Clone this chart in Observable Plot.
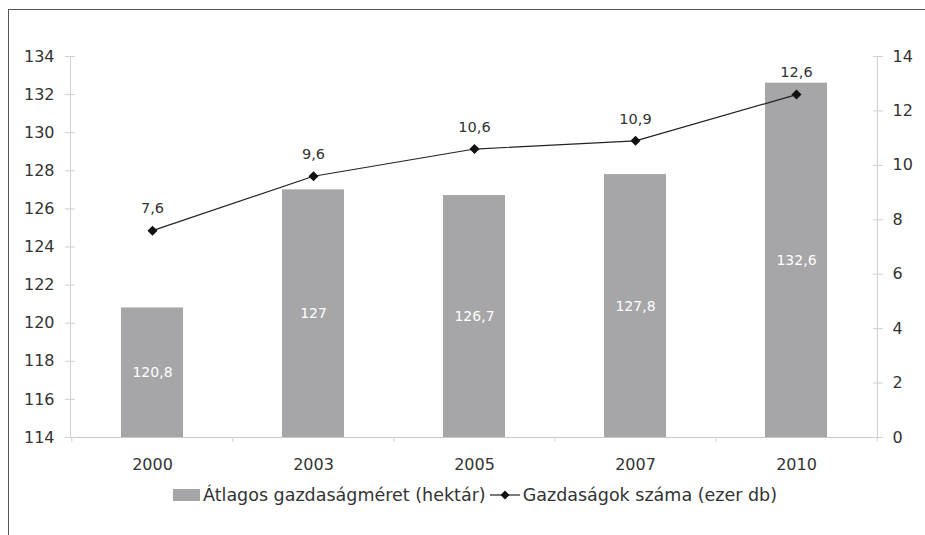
<!DOCTYPE html>
<html>
<head>
<meta charset="utf-8">
<script src="https://cdn.jsdelivr.net/npm/d3@7"></script>
<script src="https://cdn.jsdelivr.net/npm/@observablehq/plot@0.6"></script>
<style>
  html, body { margin: 0; padding: 0; background: #fff; }
  body { width: 925px; height: 535px; position: relative; overflow: hidden; font-family: "DejaVu Sans", sans-serif; }
  #frame { position: absolute; left: 8px; top: 9px; right: -2px; bottom: -2px; border-top: 1.5px solid #555; border-left: 1.5px solid #555; }
  #chart { position: absolute; left: 0; top: 0; }
  #legend { position: absolute; top: 485px; left: 173px; display: flex; align-items: center; font-size: 17.5px; color: #333; white-space: nowrap; }
  .sw-bar { width: 27px; height: 12px; background: #a6a6a8; margin-right: 3px; }
  .sw-line { margin: 0 3px 0 4px; }
</style>
</head>
<body>
<div id="frame"></div>
<div id="chart"></div>
<div id="legend">
  <span class="sw-bar"></span><span>Átlagos gazdaságméret (hektár)</span>
  <svg class="sw-line" width="30" height="12"><line x1="0" y1="6" x2="30" y2="6" stroke="#222" stroke-width="1.2"/><path d="M15,1.5 L19.5,6 L15,10.5 L10.5,6 Z" fill="#111"/></svg>
  <span>Gazdaságok száma (ezer db)</span>
</div>
<script>
const years = ["2000", "2003", "2005", "2007", "2010"];
const avgSize = [120.8, 127, 126.7, 127.8, 132.6];
const farmCount = [7.6, 9.6, 10.6, 10.9, 12.6];
const leftTicks = [114, 116, 118, 120, 122, 124, 126, 128, 130, 132, 134];
const rightTicks = [0, 2, 4, 6, 8, 10, 12, 14];

const yMin = 114, yMax = 134, rMax = 14;
const toLeft = v => yMin + v * (yMax - yMin) / rMax;
const fmt = v => String(v).replace(".", ",");

const W = 925, ML = 70, MR = 48;
const halfStep = (W - ML - MR) / years.length / 2;

const bars = years.map((y, i) => ({year: y, v: avgSize[i]}));
const pts = years.map((y, i) => ({year: y, v: farmCount[i], yv: toLeft(farmCount[i])}));
const font = "DejaVu Sans, sans-serif";

const chart = Plot.plot({
  width: W,
  height: 480,
  marginLeft: ML,
  marginRight: MR,
  marginTop: 56,
  marginBottom: 43,
  style: {fontFamily: font, color: "#333", background: "transparent"},
  x: {type: "band", domain: years, paddingInner: 0.616, paddingOuter: 0.308, label: null},
  y: {domain: [yMin, yMax], label: null},
  marks: [
    Plot.barY(bars, {x: "year", y1: d => yMin, y2: "v", fill: "#a6a6a8"}),
    Plot.text(bars, {x: "year", y: d => (yMin + d.v) / 2, text: d => fmt(d.v), fill: "#fff", fontSize: 14}),
    Plot.frame({anchor: "left", stroke: "#d0d0d0"}),
    Plot.frame({anchor: "right", stroke: "#d0d0d0"}),
    Plot.ruleY([yMin], {stroke: "#c8c8c8"}),
    Plot.ruleX(years, {x: d => d, y1: yMin, y2: yMin - 0.26, dx: -halfStep, stroke: "#d0d0d0"}),
    Plot.ruleX(years.slice(-1), {x: d => d, y1: yMin, y2: yMin - 0.26, dx: halfStep, stroke: "#d0d0d0"}),
    Plot.axisY({anchor: "left", ticks: leftTicks, tickSize: 10, dx: 5, tickFormat: () => "", stroke: "#d0d0d0", label: null}),
    Plot.axisY({anchor: "left", ticks: leftTicks, tickSize: 0, tickPadding: 16, fontSize: 16, fill: "#333", label: null}),
    Plot.axisY({anchor: "right", ticks: rightTicks.map(toLeft), tickSize: 10, dx: -5, tickFormat: () => "", stroke: "#d0d0d0", label: null}),
    Plot.axisY({anchor: "right", ticks: rightTicks.map(toLeft), tickFormat: d => String(Math.round((d - yMin) * rMax / (yMax - yMin))), tickSize: 0, tickPadding: 15, fontSize: 16, fill: "#333", label: null}),
    Plot.axisX({anchor: "bottom", tickSize: 0, tickPadding: 21, fontSize: 16, fill: "#333", label: null}),
    Plot.line(pts, {x: "year", y: "yv", stroke: "#222", strokeWidth: 1.2}),
    Plot.dot(pts, {x: "year", y: "yv", symbol: "diamond2", r: 4.5, fill: "#111", stroke: "none"}),
    Plot.text(pts, {x: "year", y: "yv", text: d => fmt(d.v), dy: -22, fontSize: 14.5, fill: "#333"})
  ]
});
document.getElementById("chart").appendChild(chart);
</script>
</body>
</html>
